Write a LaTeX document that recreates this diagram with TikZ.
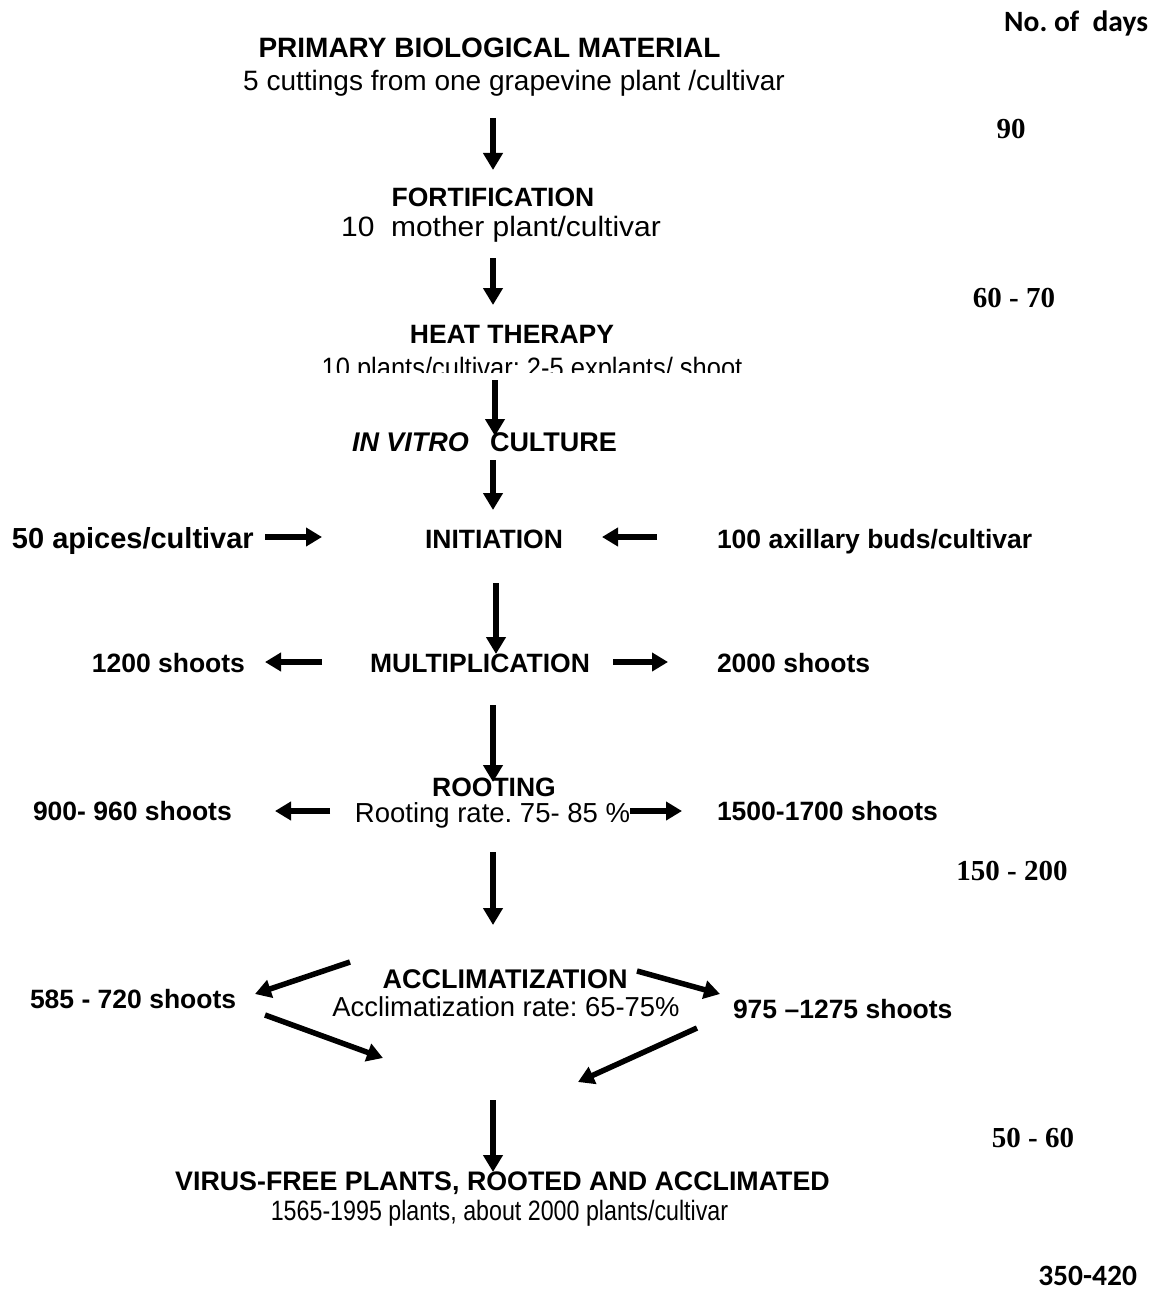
\documentclass[tikz,border=0pt]{standalone}
\usepackage{fontspec}
\usepackage{graphicx}
\setmainfont{Liberation Sans}
\newfontfamily\tmsfont{Liberation Serif}
\newfontfamily\calfont{Carlito}
\usetikzlibrary{arrows.meta}
\frenchspacing
\newcommand\hsq[2]{\scalebox{#1}[1]{#2}}
\begin{document}
\begin{tikzpicture}[x=1pt,y=-1pt,
  every node/.style={inner sep=0pt,outer sep=0pt},
  hd/.style={anchor=base,font=\fontsize{26.5}{30}\selectfont\bfseries},
  sb/.style={anchor=base,font=\fontsize{28}{32}\selectfont},
  side/.style={anchor=base west,font=\fontsize{26.5}{30}\selectfont\bfseries},
  days/.style={anchor=base,font=\fontsize{29}{33}\selectfont\tmsfont\bfseries},
  cb/.style={anchor=base east,font=\fontsize{29.5}{33}\selectfont\calfont\bfseries},
  arr/.style={line width=6pt,-{Triangle[length=17pt,width=19pt]}},
  harr/.style={line width=5.5pt,-{Triangle[length=16pt,width=18pt]}}]
\useasboundingbox (0,0) rectangle (1161,1292);
\fill[white] (0,0) rectangle (1161,1292);
% day counts
\node[cb] (nd) at (1148,32) {No. of\ \ days};
\node[days] (d1) at (1011,139) {90};
\node[days] (d2) at (1014,307) {60 - 70};
\node[days] (d3) at (1012,880) {150 - 200};
\node[days] (d4) at (1033,1147) {50 - 60};
\node[cb] (d5) at (1137,1285) {350-420};
% main column
\node[hd,font=\fontsize{28}{32}\selectfont\bfseries] (pm) at (489.5,58) {PRIMARY BIOLOGICAL MATERIAL};
\node[sb] (pms) at (514,91) {5 cuttings from one grapevine plant /cultivar};
\node[hd] (fo) at (493,206) {FORTIFICATION};
\node[sb] (fos) at (501,236) {\hsq{1.07}{10\ \ mother plant/cultivar}};
\node[hd] (ht) at (512,343) {HEAT THERAPY};
\begin{scope}
\clip (0,300) rectangle (1161,372);
\node[sb] (hts) at (532,377) {\hsq{0.91}{10 plants/cultivar: 2-5 explants/ shoot}};
\end{scope}
\node[side,font=\fontsize{27}{30}\selectfont\bfseries] (iv) at (352,451) {\itshape IN VITRO\upshape\hspace{21pt}CULTURE};
\node[hd] (in) at (494,548) {INITIATION};
\node[side,font=\fontsize{29}{33}\selectfont\bfseries] (ap) at (12,548) {50 apices/cultivar};
\node[side] (ax) at (717,548) {100 axillary buds/cultivar};
\node[hd] (mu) at (480,672) {MULTIPLICATION};
\node[side,anchor=base east] (s1) at (245,672) {1200 shoots};
\node[side] (s2) at (717,672) {2000 shoots};
\node[hd] (ro) at (494,796) {ROOTING};
\node[sb,font=\fontsize{27.5}{32}\selectfont] (ros) at (492.5,822) {Rooting rate. 75- 85 \%};
\node[side] (r1) at (33,820) {900- 960 shoots};
\node[side] (r2) at (717,820) {1500-1700 shoots};
\node[hd,font=\fontsize{27}{30}\selectfont\bfseries] (ac) at (505,988) {ACCLIMATIZATION};
\node[sb,font=\fontsize{27.4}{32}\selectfont] (acs) at (506,1016) {Acclimatization rate: 65-75\%};
\node[side] (a1) at (30,1008) {585 - 720 shoots};
\node[side] (a2) at (733,1018) {975 –1275 shoots};
\node[hd,font=\fontsize{26.8}{30}\selectfont\bfseries] (vf) at (502.5,1190) {VIRUS-FREE PLANTS, ROOTED AND ACCLIMATED};
\node[sb] (vfs) at (499.5,1220) {\hsq{0.83}{1565-1995 plants, about 2000 plants/cultivar}};
% arrow end points
\coordinate (v1a) at (493,118); \coordinate (v1b) at (493,170);
\coordinate (v2a) at (493,258); \coordinate (v2b) at (493,305);
\coordinate (v3a) at (495,380); \coordinate (v3b) at (495,436);
\coordinate (v4a) at (493,460); \coordinate (v4b) at (493,510);
\coordinate (v5a) at (496,583); \coordinate (v5b) at (496,654);
\coordinate (v6a) at (493,705); \coordinate (v6b) at (493,782);
\coordinate (v7a) at (493,852); \coordinate (v7b) at (493,925);
\coordinate (v8a) at (493,1100); \coordinate (v8b) at (493,1172);
\coordinate (h1a) at (265,537); \coordinate (h1b) at (322,537);
\coordinate (h2a) at (657,537); \coordinate (h2b) at (602,537);
\coordinate (h3a) at (322,662); \coordinate (h3b) at (265,662);
\coordinate (h4a) at (613,662); \coordinate (h4b) at (668,662);
\coordinate (h5a) at (330,811); \coordinate (h5b) at (275,811);
\coordinate (h6a) at (630,811); \coordinate (h6b) at (682,811);
\coordinate (g1a) at (350,962); \coordinate (g1b) at (255,994);
\coordinate (g2a) at (637,971); \coordinate (g2b) at (720,994);
\coordinate (g3a) at (265,1015); \coordinate (g3b) at (383,1058);
\coordinate (g4a) at (697,1028); \coordinate (g4b) at (578,1082);
\foreach \p in {v1,v2,v3,v4,v5,v6,v7,v8} \draw[arr] (\p a) -- (\p b);
\foreach \p in {h1,h2,h3,h4,h5,h6,g1,g2,g3,g4} \draw[harr] (\p a) -- (\p b);
\end{tikzpicture}
\end{document}
